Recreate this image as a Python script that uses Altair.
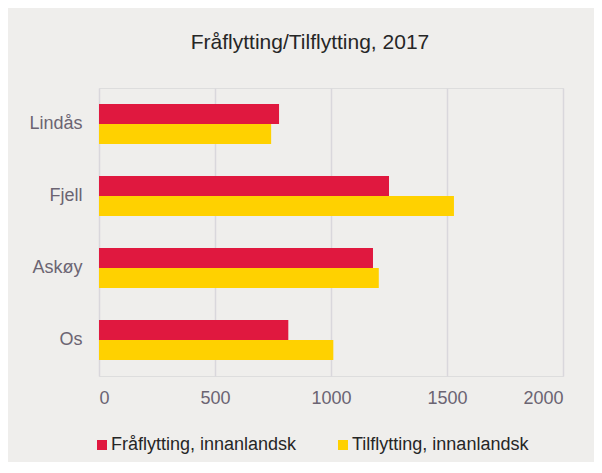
import altair as alt
import pandas as pd

kommuner = ["Lindås", "Fjell", "Askøy", "Os"]
serier = ["Fråflytting, innanlandsk", "Tilflytting, innanlandsk"]
fraflytting = [776, 1250, 1181, 816]
tilflytting = [742, 1530, 1206, 1010]
x_ticks = [0, 500, 1000, 1500, 2000]
farger = ["#E0183F", "#FFD100"]

rows = []
for k, f, t in zip(kommuner, fraflytting, tilflytting):
    rows.append({"kommune": k, "serie": serier[0], "verdi": f})
    rows.append({"kommune": k, "serie": serier[1], "verdi": t})
df = pd.DataFrame(rows)

FONT = "Liberation Sans"

chart = alt.Chart(df).mark_bar().encode(
    x=alt.X("verdi:Q",
            scale=alt.Scale(domain=[0, 2000], nice=False),
            axis=alt.Axis(values=x_ticks, format="d", title=None, grid=True, domain=False, ticks=False,
                          labelFontSize=18, labelColor="#6B6472", labelPadding=13,
                          gridColor="#D9D7DC", gridWidth=1.5, labelFont=FONT)),
    y=alt.Y("kommune:N", sort=kommuner,
            scale=alt.Scale(paddingInner=0.444, paddingOuter=0.222),
            axis=alt.Axis(title=None, domain=False, ticks=False, labelFontSize=18,
                          labelColor="#6B6472", labelPadding=17, labelFont=FONT,
                          minExtent=91, maxExtent=91)),
    yOffset=alt.YOffset("serie:N", sort=serier),
    color=alt.Color("serie:N", sort=serier,
                    scale=alt.Scale(domain=serier, range=farger),
                    legend=alt.Legend(title=None, orient="none", legendX=-6, legendY=348,
                                      direction="horizontal", symbolType="square",
                                      symbolSize=100, labelFontSize=18, labelColor="#262626",
                                      labelFont=FONT, labelLimit=400, columnPadding=37,
                                      labelOffset=0, symbolStrokeWidth=0)),
).properties(
    width=464, height=288,
    title=alt.TitleParams("Fråflytting/Tilflytting, 2017", fontSize=21, color="#262626",
                          font=FONT, fontWeight="normal", offset=35, dx=-21),
    background="#EFEEEC",
    padding={"left": 0, "top": 24, "right": 31, "bottom": 8},
).configure_view(stroke=None).configure(font=FONT)

chart.save("out.html", embed_options={"renderer": "svg", "actions": False})
